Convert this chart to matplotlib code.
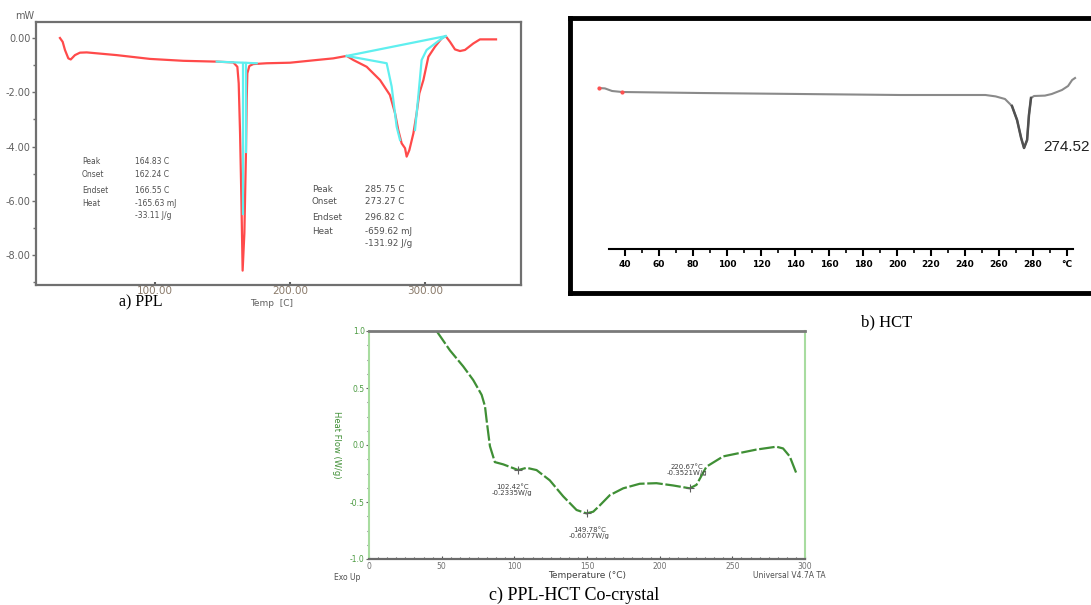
import matplotlib
matplotlib.use("Agg")
import matplotlib.pyplot as plt
from matplotlib.ticker import MultipleLocator, FixedLocator

W, H = 1091, 605

# ---------------- data: a) PPL ----------------
ppl_temp = [29.6, 31.6, 33.3, 35.8, 37.6, 40.7, 44.4, 49.4, 71.6, 96.3, 121, 145.7, 158, 161, 162,
            163, 164, 164.9, 166.2, 167.4, 167.9, 168.4, 169.9, 172.8, 182.7, 200, 219.8, 232, 242,
            246.9, 256.8, 266.7, 274, 277.8, 280.2, 282.7, 285.2, 286.4, 288.4, 291.4, 293.8, 295.8,
            298.8, 302.5, 307.4, 312.4, 315.3, 318.5, 322.2, 325.9, 329.6, 335.8, 340.7, 345.7, 352.6]
ppl_mw = [0.0, -0.14, -0.44, -0.75, -0.79, -0.63, -0.54, -0.53, -0.63, -0.77, -0.84, -0.87, -0.90,
          -1.06, -1.67, -3.5, -5.97, -8.57, -7.19, -4.13, -2.28, -1.30, -1.03, -0.96, -0.93, -0.91,
          -0.81, -0.75, -0.66, -0.81, -1.06, -1.55, -2.10, -2.77, -3.39, -3.88, -4.06, -4.37, -4.13,
          -3.51, -2.77, -2.04, -1.55, -0.69, -0.32, -0.01, 0.07, -0.14, -0.42, -0.48, -0.44, -0.20,
          -0.05, -0.05, -0.05]
# integration / baseline construction lines (cyan)
cyan1_temp = [145.7, 175.3]
cyan1_mw = [-0.87, -0.93]
cyan2_temp = [165.4, 165.4]
cyan2_mw = [-0.93, -6.5]
cyan3_temp = [167.3, 167.3]
cyan3_mw = [-0.93, -4.2]
cyan4_temp = [242, 315.3]
cyan4_mw = [-0.66, 0.07]
cyan5_temp = [242, 271.6, 275.3, 279, 281.5]
cyan5_mw = [-0.66, -0.93, -1.79, -3.27, -3.76]
cyan6_temp = [292.6, 295, 297.5, 301.2, 311, 315.3]
cyan6_mw = [-3.39, -2.16, -0.81, -0.44, -0.07, 0.07]
ppl_yticks = [0, -2, -4, -6, -8]
ppl_yticklabels = ["0.00", "-2.00", "-4.00", "-6.00", "-8.00"]
ppl_xticks = [100, 200, 300]
ppl_xticklabels = ["100.00", "200.00", "300.00"]
peak1_labels = ["Peak", "Onset", "Endset", "Heat", ""]
peak1_values = ["164.83 C", "162.24 C", "166.55 C", "-165.63 mJ", "-33.11 J/g"]
peak2_labels = ["Peak", "Onset", "Endset", "Heat", ""]
peak2_values = ["285.75 C", "273.27 C", "296.82 C", "-659.62 mJ", "-131.92 J/g"]

# ---------------- data: b) HCT ----------------
hct_temp = [24.7, 28.2, 32.4, 38.2, 84, 143, 202, 252, 258, 263.5, 267.6, 270.6, 273, 274.7,
            276.5, 277.6, 278.8, 280.6, 287, 291, 297, 300.6, 303, 304.7]
hct_flow = [0.2, 0.18, 0.05, 0.0, -0.05, -0.1, -0.15, -0.15, -0.22, -0.35, -0.7, -1.4, -2.3, -2.8,
            -2.4, -1.15, -0.3, -0.2, -0.18, -0.1, 0.1, 0.3, 0.6, 0.7]
hct_xticks = [40, 60, 80, 100, 120, 140, 160, 180, 200, 220, 240, 260, 280, 300]
hct_xticklabels = ["40", "60", "80", "100", "120", "140", "160", "180", "200", "220", "240",
                   "260", "280", "°C"]

# ---------------- data: c) PPL-HCT co-crystal ----------------
cc_temp = [46.5, 55.7, 64.8, 71.7, 77.5, 79.8, 80.9, 83.2, 86.6, 92.4, 102.7, 108.4, 115.3, 124.4,
           133.6, 142.8, 149.7, 154.3, 158.8, 165.7, 174.9, 186.3, 197.8, 209.3, 220.7, 225.3,
           232.2, 243.7, 255.1, 266.6, 280.3, 284.9, 289.5, 294.1]
cc_flow = [1.0, 0.83, 0.69, 0.57, 0.44, 0.34, 0.22, -0.01, -0.15, -0.17, -0.22, -0.20, -0.22,
           -0.31, -0.45, -0.57, -0.60, -0.585, -0.53, -0.44, -0.38, -0.34, -0.335, -0.355, -0.38,
           -0.35, -0.19, -0.10, -0.07, -0.04, -0.015, -0.03, -0.10, -0.25]
cc_marks_temp = [102.42, 149.78, 220.67]
cc_marks_flow = [-0.22, -0.60, -0.38]
cc_marks_text = ["102.42°C\n-0.2335W/g", "149.78°C\n-0.6077W/g", "220.67°C\n-0.3521W/g"]
cc_yticks = [1.0, 0.5, 0.0, -0.5, -1.0]
cc_yticklabels = ["1.0", "0.5", "0.0", "-0.5", "-1.0"]
cc_xticks = [0, 50, 100, 150, 200, 250, 300]

fig = plt.figure(figsize=(W / 100, H / 100), dpi=100)
fig.patch.set_facecolor("white")


def px_axes(l, t, r, b):
    return fig.add_axes([l / W, 1 - b / H, (r - l) / W, (b - t) / H])


def ftext(x, y, s, **kw):
    fig.text(x / W, 1 - y / H, s, **kw)


SERIF = "Liberation Serif"

# =============== panel a ===============
axa = px_axes(36, 22, 521, 285)
axa.set_xlim(11.85, 371.1)
axa.set_ylim(-9.10, 0.59)
axa.plot(ppl_temp, ppl_mw, color="#ff4a4a", lw=1.6, zorder=2)
for tx, ty in [(cyan1_temp, cyan1_mw), (cyan2_temp, cyan2_mw), (cyan3_temp, cyan3_mw),
               (cyan4_temp, cyan4_mw), (cyan5_temp, cyan5_mw), (cyan6_temp, cyan6_mw)]:
    axa.plot(tx, ty, color="#5fefef", lw=1.6, zorder=3)
for s in axa.spines.values():
    s.set_color("#707070")
    s.set_linewidth(1.6)
axa.set_yticks(ppl_yticks)
axa.set_yticklabels(ppl_yticklabels)
axa.yaxis.set_minor_locator(MultipleLocator(1))
axa.set_xticks(ppl_xticks)
axa.set_xticklabels(ppl_xticklabels)
axa.tick_params(axis="y", direction="out", length=3, width=1, colors="#707070",
                labelsize=7, labelcolor="#606060", pad=1)
axa.tick_params(axis="y", which="minor", direction="out", length=2, width=1, colors="#707070")
axa.tick_params(axis="x", direction="in", length=2, width=1.5, colors="#606060",
                labelsize=7.5, labelcolor="#8a7a6a", pad=0.5)
ftext(34, 16, "mW", ha="right", va="center", fontsize=7, color="#606060")
ftext(272, 303, "Temp  [C]", ha="center", va="center", fontsize=6.5, color="#606060")
ylab = [161, 175, 190, 204, 216]
for i in range(5):
    ftext(82, ylab[i], peak1_labels[i], ha="left", va="center", fontsize=5.5, color="#505050")
    ftext(135, ylab[i], peak1_values[i], ha="left", va="center", fontsize=5.5, color="#505050")
ylab2 = [189, 202, 217, 231, 244]
for i in range(5):
    ftext(312, ylab2[i], peak2_labels[i], ha="left", va="center", fontsize=6.3, color="#505050")
    ftext(365, ylab2[i], peak2_values[i], ha="left", va="center", fontsize=6.3, color="#505050")
ftext(141, 302, "a) PPL", ha="center", va="center", fontsize=11.5, family=SERIF, color="black")

# =============== panel b ===============
axf = px_axes(570, 18, 1110, 293)
axf.set_xticks([])
axf.set_yticks([])
for s in axf.spines.values():
    s.set_color("black")
    s.set_linewidth(3.5)
axf.patch.set_alpha(0)

axb = px_axes(609, 60, 1073, 249)
axb.set_xlim(30.6, 303.5)
axb.set_ylim(-7.85, 1.6)
axb.plot(hct_temp, hct_flow, color="#8a8a8a", lw=1.5, clip_on=False)
axb.plot(hct_temp[10:17], hct_flow[10:17], color="#505050", lw=1.8, clip_on=False)
axb.plot(hct_temp[0:1] + hct_temp[3:4], hct_flow[0:1] + hct_flow[3:4], ls="none", marker="o",
         ms=2, color="#ff5050", clip_on=False)
axb.patch.set_alpha(0)
for k in ["top", "left", "right"]:
    axb.spines[k].set_visible(False)
axb.spines["bottom"].set_linewidth(1.5)
axb.spines["bottom"].set_bounds(30.6, 303.5)
axb.set_yticks([])
axb.xaxis.set_major_locator(FixedLocator(hct_xticks))
axb.set_xticklabels(hct_xticklabels)
axb.xaxis.set_minor_locator(MultipleLocator(10))
axb.tick_params(axis="x", which="major", direction="out", length=5, width=1.5, labelsize=6.5,
                pad=3)
axb.tick_params(axis="x", which="minor", direction="out", length=3, width=1.2)
for lab in axb.get_xticklabels():
    lab.set_fontweight("bold")
ftext(1043, 147, "274.52", ha="left", va="center", fontsize=11, family="Liberation Sans",
      color="#202020")
ftext(887, 322, "b) HCT", ha="center", va="center", fontsize=12, family=SERIF, color="black")

# =============== panel c ===============
axc = px_axes(369, 331, 805, 559)
axc.set_xlim(0, 300)
axc.set_ylim(-1.0, 1.0)
axc.plot(cc_temp, cc_flow, color="#3f8f35", lw=1.6, dashes=(7, 1.2))
axc.plot(cc_marks_temp, cc_marks_flow, ls="none", marker="+", ms=6, mew=0.8, color="#606060")
offs = [(-4, 10), (2, 10), (-2, -9)]
for t, v, s, (dx, dy) in zip(cc_marks_temp, cc_marks_flow, cc_marks_text, offs):
    axc.annotate(s, (t, v), xytext=(dx, -dy), textcoords="offset points", ha="center",
                 va="top" if dy > 0 else "bottom", fontsize=5, color="#404040", linespacing=1.0)
axc.spines["top"].set_color("#7a7a7a")
axc.spines["top"].set_linewidth(2)
axc.spines["bottom"].set_color("#6a6a6a")
axc.spines["bottom"].set_linewidth(1.6)
axc.spines["left"].set_color("#a8dca0")
axc.spines["left"].set_linewidth(1.5)
axc.spines["right"].set_color("#a8dca0")
axc.spines["right"].set_linewidth(1.5)
axc.set_yticks(cc_yticks)
axc.set_yticklabels(cc_yticklabels)
axc.yaxis.set_minor_locator(MultipleLocator(0.125))
axc.set_xticks(cc_xticks)
axc.xaxis.set_minor_locator(MultipleLocator(6.25))
axc.tick_params(axis="y", direction="out", length=2, width=0.8, colors="#606060",
                labelsize=5.5, labelcolor="#4a9a40", pad=1)
axc.tick_params(axis="y", which="minor", direction="out", length=1.5, width=0.8, colors="#606060")
axc.tick_params(axis="x", direction="in", length=2.5, width=0.8, colors="#505050",
                labelsize=5.5, labelcolor="#707070", pad=2)
axc.tick_params(axis="x", which="minor", direction="in", length=1.5, width=0.8, colors="#505050")
ftext(337, 445, "Heat Flow (W/g)", ha="center", va="center", rotation=270, fontsize=6,
      color="#3f8f35")
ftext(347, 577, "Exo Up", ha="center", va="center", fontsize=5.5, color="#505050")
ftext(587, 576, "Temperature (°C)", ha="center", va="center", fontsize=6.5, color="#404040")
ftext(753, 576, "Universal V4.7A TA", ha="left", va="center", fontsize=5.5, color="#505050")
ftext(574, 595, "c) PPL-HCT Co-crystal", ha="center", va="center", fontsize=13, family=SERIF,
      color="black")

fig.savefig("out.png", dpi=100)
